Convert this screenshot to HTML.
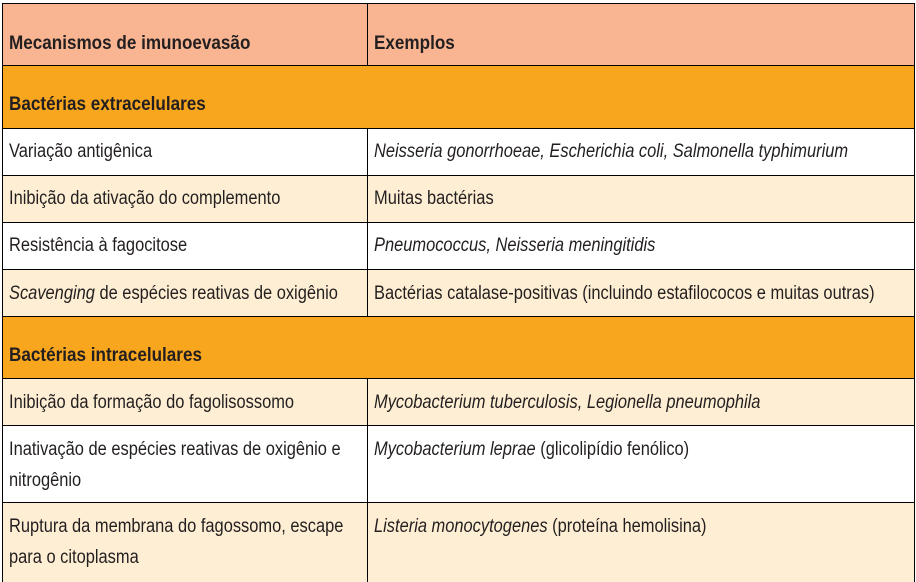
<!DOCTYPE html>
<html><head><meta charset="utf-8"><style>
body{margin:0;width:916px;height:582px;position:relative;overflow:hidden;background:#fff;font-family:"Liberation Sans",sans-serif;color:#231f20}
.r{position:absolute;left:2px;width:912px}
.h{position:absolute;background:#000}
.t{position:absolute;font-size:19px;line-height:20px;white-space:nowrap;transform:scaleX(0.865);transform-origin:left center}
.b{font-weight:bold;transform:scaleX(0.9)}
i{font-style:italic}
</style></head><body>
<div class="r" style="top:3px;height:62px;background:#f9b591"></div>
<div class="r" style="top:65px;height:63px;background:#f8a61e"></div>
<div class="r" style="top:175px;height:47px;background:#feefd4"></div>
<div class="r" style="top:269px;height:47px;background:#feefd4"></div>
<div class="r" style="top:316px;height:62px;background:#f8a61e"></div>
<div class="r" style="top:378px;height:47px;background:#feefd4"></div>
<div class="r" style="top:502px;height:80px;background:#feefd4"></div>
<div class="h" style="left:2px;top:3px;width:913px;height:1px"></div>
<div class="h" style="left:2px;top:65px;width:913px;height:1px"></div>
<div class="h" style="left:2px;top:128px;width:913px;height:1px"></div>
<div class="h" style="left:2px;top:175px;width:913px;height:1px"></div>
<div class="h" style="left:2px;top:222px;width:913px;height:1px"></div>
<div class="h" style="left:2px;top:269px;width:913px;height:1px"></div>
<div class="h" style="left:2px;top:316px;width:913px;height:1px"></div>
<div class="h" style="left:2px;top:378px;width:913px;height:1px"></div>
<div class="h" style="left:2px;top:425px;width:913px;height:1px"></div>
<div class="h" style="left:2px;top:502px;width:913px;height:1px"></div>
<div class="h" style="left:2px;top:3px;width:1px;height:579px"></div>
<div class="h" style="left:914px;top:3px;width:1px;height:579px"></div>
<div class="h" style="left:367px;top:3px;width:1px;height:62px"></div>
<div class="h" style="left:367px;top:128px;width:1px;height:188px"></div>
<div class="h" style="left:367px;top:378px;width:1px;height:204px"></div>
<div class="t b" style="left:9px;top:34px">Mecanismos de imunoevasão</div>
<div class="t b" style="left:374px;top:34px">Exemplos</div>
<div class="t b" style="left:9px;top:95px">Bactérias extracelulares</div>
<div class="t" style="left:9px;top:142px">Variação antigênica</div>
<div class="t" style="left:374px;top:142px"><i>Neisseria gonorrhoeae, Escherichia coli, Salmonella typhimurium</i></div>
<div class="t" style="left:9px;top:189px">Inibição da ativação do complemento</div>
<div class="t" style="left:374px;top:189px">Muitas bactérias</div>
<div class="t" style="left:9px;top:236px">Resistência à fagocitose</div>
<div class="t" style="left:374px;top:236px"><i>Pneumococcus, Neisseria meningitidis</i></div>
<div class="t" style="left:9px;top:284px"><i>Scavenging</i> de espécies reativas de oxigênio</div>
<div class="t" style="left:374px;top:284px">Bactérias catalase-positivas (incluindo estafilococos e muitas outras)</div>
<div class="t b" style="left:9px;top:346px">Bactérias intracelulares</div>
<div class="t" style="left:9px;top:393px">Inibição da formação do fagolisossomo</div>
<div class="t" style="left:374px;top:393px"><i>Mycobacterium tuberculosis, Legionella pneumophila</i></div>
<div class="t" style="left:9px;top:440px">Inativação de espécies reativas de oxigênio e</div>
<div class="t" style="left:9px;top:471px">nitrogênio</div>
<div class="t" style="left:374px;top:440px"><i>Mycobacterium leprae</i> (glicolipídio fenólico)</div>
<div class="t" style="left:9px;top:517px">Ruptura da membrana do fagossomo, escape</div>
<div class="t" style="left:9px;top:548px">para o citoplasma</div>
<div class="t" style="left:374px;top:517px"><i>Listeria monocytogenes</i> (proteína hemolisina)</div>
</body></html>
